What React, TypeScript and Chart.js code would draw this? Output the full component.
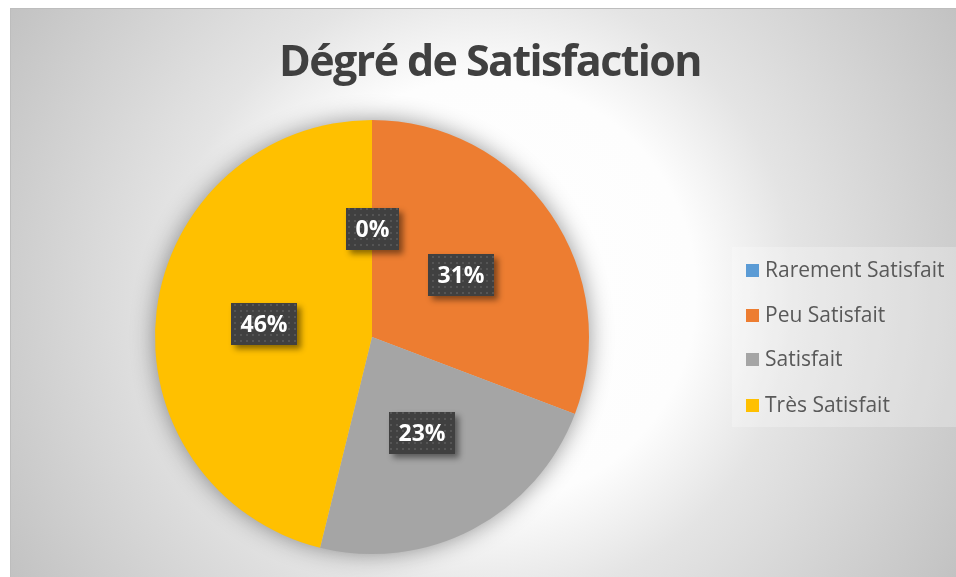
import React, { useEffect, useRef } from "react";
import { Chart, registerables } from "chart.js";

Chart.register(...registerables);

const chartTitle = "Dégré de Satisfaction";
const categories = ["Rarement Satisfait", "Peu Satisfait", "Satisfait", "Très Satisfait"];
const counts = [0, 4, 3, 6];
const sliceColors = ["#5B9BD5", "#ED7D31", "#A5A5A5", "#FFC000"];

const W = 946;
const H = 569;
const FONT = "'Open Sans', 'DejaVu Sans', sans-serif";

function makePattern(ctx: CanvasRenderingContext2D) {
  const c = document.createElement("canvas");
  c.width = 6;
  c.height = 6;
  const p = c.getContext("2d")!;
  p.fillStyle = "#404040";
  p.fillRect(0, 0, 6, 6);
  p.fillStyle = "#555555";
  p.fillRect(2, 2, 2, 2);
  return ctx.createPattern(c, "repeat");
}

const decorPlugin = {
  id: "decor",
  beforeDraw(chart: any) {
    const ctx = chart.ctx as CanvasRenderingContext2D;
    ctx.save();
    const cx = 473, cy = 284;
    const g = ctx.createRadialGradient(cx, cy, 0, cx, cy, 560);
    g.addColorStop(0, "#ffffff");
    g.addColorStop(0.38, "#fdfdfd");
    g.addColorStop(0.56, "#e4e4e4");
    g.addColorStop(1, "#c1c1c1");
    ctx.fillStyle = g;
    ctx.fillRect(0, 0, W, H);
    ctx.strokeStyle = "#bdbdbd";
    ctx.lineWidth = 1;
    ctx.strokeRect(0.5, 0.5, W, H);
    // title
    ctx.fillStyle = "#404040";
    ctx.font = `bold 43px ${FONT}`;
    (ctx as any).letterSpacing = "-1.6px";
    ctx.textAlign = "center";
    ctx.textBaseline = "alphabetic";
    ctx.fillText(chartTitle, 480, 68);
    ctx.restore();
  },
  beforeDatasetsDraw(chart: any) {
    const ctx = chart.ctx as CanvasRenderingContext2D;
    const arc = chart.getDatasetMeta(0).data[0];
    if (!arc) return;
    const { x, y, outerRadius } = arc.getProps(["x", "y", "outerRadius"], true);
    ctx.save();
    ctx.shadowColor = "rgba(0,0,0,0.45)";
    ctx.shadowBlur = 24;
    ctx.fillStyle = "#c8c8c8";
    ctx.beginPath();
    ctx.arc(x, y, outerRadius - 1, 0, Math.PI * 2);
    ctx.fill();
    ctx.restore();
  },
  afterDatasetsDraw(chart: any) {
    const ctx = chart.ctx as CanvasRenderingContext2D;
    const meta = chart.getDatasetMeta(0);
    const total = counts.reduce((a, b) => a + b, 0);
    const pattern = makePattern(ctx);
    ctx.save();
    ctx.font = `bold 23px ${FONT}`;
    ctx.textAlign = "center";
    ctx.textBaseline = "middle";
    meta.data.forEach((el: any, i: number) => {
      const { x, y, startAngle, endAngle, outerRadius } = el.getProps(
        ["x", "y", "startAngle", "endAngle", "outerRadius"],
        true
      );
      const mid = (startAngle + endAngle) / 2;
      const r = outerRadius * 0.5;
      const lx = x + Math.cos(mid) * r;
      const ly = y + Math.sin(mid) * r;
      const txt = Math.round((counts[i] / total) * 100) + "%";
      const tw = ctx.measureText(txt).width;
      const bw = Math.round(tw + 19);
      const bh = 42;
      const bx = Math.round(lx - bw / 2);
      const by = Math.round(ly - bh / 2);
      ctx.save();
      ctx.shadowColor = "rgba(0,0,0,0.45)";
      ctx.shadowBlur = 6;
      ctx.shadowOffsetX = 4;
      ctx.shadowOffsetY = 4;
      ctx.fillStyle = "#404040";
      ctx.fillRect(bx, by, bw, bh);
      ctx.restore();
      ctx.fillStyle = pattern || "#404040";
      ctx.fillRect(bx, by, bw, bh);
      ctx.fillStyle = "#ffffff";
      ctx.fillText(txt, bx + bw / 2, by + bh / 2 + 1);
    });
    ctx.restore();

    // legend
    ctx.save();
    ctx.fillStyle = "rgba(255,255,255,0.25)";
    ctx.fillRect(722, 239, 224, 180);
    ctx.font = `21px ${FONT}`;
    ctx.textAlign = "left";
    ctx.textBaseline = "middle";
    const rows = [262, 307, 351, 397];
    categories.forEach((lab, i) => {
      ctx.fillStyle = sliceColors[i];
      ctx.fillRect(736, rows[i] - 6, 13, 13);
      ctx.fillStyle = "#595959";
      ctx.fillText(lab, 755, rows[i] + 1);
    });
    ctx.restore();
  },
};

export default function App() {
  const ref = useRef<HTMLCanvasElement>(null);
  useEffect(() => {
    if (!ref.current) return;
    const chart = new Chart(ref.current, {
      type: "pie",
      data: {
        labels: categories,
        datasets: [
          {
            data: counts,
            backgroundColor: sliceColors,
            borderWidth: 0,
            hoverBorderWidth: 0,
            hoverOffset: 0,
            offset: 0,
          },
        ],
      },
      options: {
        responsive: false,
        animation: false,
        devicePixelRatio: 1,
        events: [],
        layout: { padding: { left: 145, top: 112, right: 367, bottom: 23 } },
        plugins: {
          legend: { display: false },
          title: { display: false },
          tooltip: { enabled: false },
        },
      },
      plugins: [decorPlugin],
    });
    return () => chart.destroy();
  }, []);
  return (
    <div style={{ position: "absolute", left: 10, top: 8, width: W, height: H }}>
      <canvas ref={ref} width={W} height={H} style={{ width: W, height: H, display: "block" }} />
    </div>
  );
}
